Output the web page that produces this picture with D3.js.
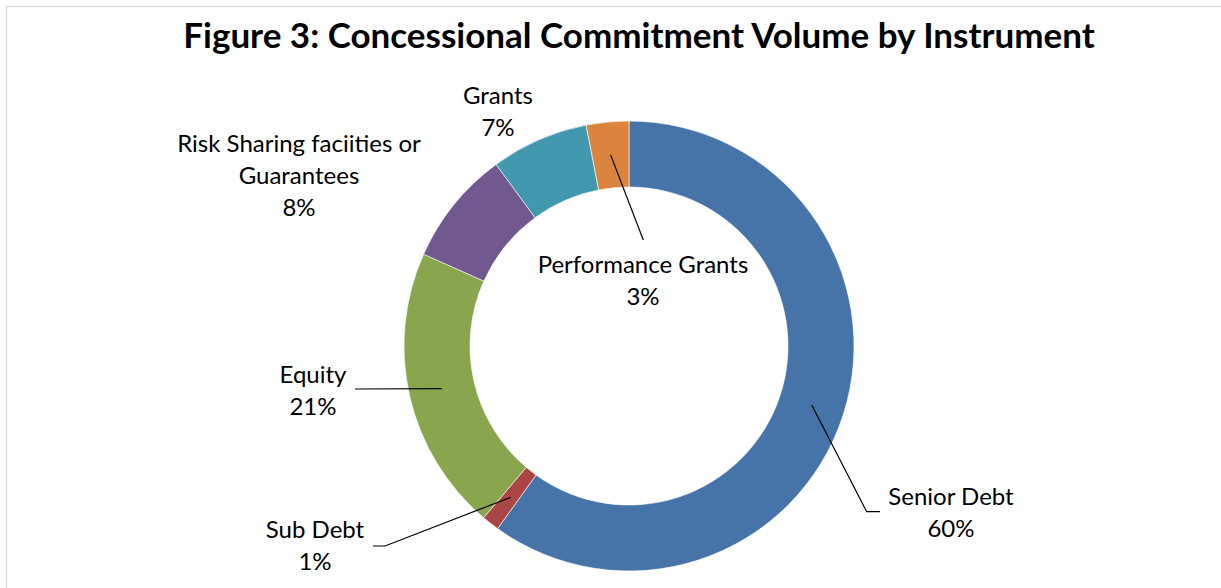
<!DOCTYPE html>
<html>
<head>
<meta charset="utf-8">
<title>Concessional Commitment Volume by Instrument</title>
<script src="https://cdn.jsdelivr.net/npm/d3@7"></script>
<style>
body { margin: 0; background: #fff; font-family: Lato, "Open Sans", sans-serif; }
.title { font-weight: bold; fill: #000; }
.label { font-size: 24px; fill: #000; }
.leader { fill: none; stroke: #000; stroke-width: 1.2; }
</style>
</head>
<body>
<div class="content"></div>
<script>
// data
var categories = ["Senior Debt", "Sub Debt", "Equity", "Risk Sharing faciities or Guarantees", "Grants", "Performance Grants"];
var values = [59.9, 1.25, 20.5, 8.25, 7.0, 3.05];
var pctLabels = ["60%", "1%", "21%", "8%", "7%", "3%"];

var colors = ["#4674A8", "#AA4744", "#89A54E", "#71588F", "#4198AF", "#DB843D"];

var width = 1221, height = 588;
var cx = 629, cy = 346, rOuter = 225, rInner = 159;

// label layout: centre x, first baseline y, wrapped lines, leader end points
var labelLayout = [
  { x: 951, y: 505, lines: ["Senior Debt"], leader: [[866.7, 511.7], [880, 511.7]] },
  { x: 315, y: 538, lines: ["Sub Debt"], leader: [[385, 546], [373, 546]] },
  { x: 313, y: 383, lines: ["Equity"], leader: [[355, 389]] },
  { x: 299, y: 152, lines: ["Risk Sharing faciities or", "Guarantees"], leader: null },
  { x: 498, y: 104, lines: ["Grants"], leader: null },
  { x: 643, y: 273, lines: ["Performance Grants"], leader: [[643.3, 240]] }
];
var lineHeight = 32;

var svg = d3.select(".content").append("svg")
  .attr("width", width).attr("height", height);

// chart frame
svg.append("rect")
  .attr("x", 6.5).attr("y", 6.5)
  .attr("width", width + 10).attr("height", height + 10)
  .style("fill", "#fff").style("stroke", "#DCDCDC").style("stroke-width", 1.5);

var title = svg.append("text")
  .attr("class", "title")
  .attr("x", 639).attr("y", 48)
  .attr("text-anchor", "middle")
  .style("font-size", "34px")
  .text("Figure 3: Concessional Commitment Volume by Instrument");
// fit to the title's width in the figure
var tw = title.node().getComputedTextLength();
title.style("font-size", (34 * 912 / tw) + "px");

var pie = d3.pie().sort(null).value(function (d) { return d; });
var arcs = pie(values);
var arc = d3.arc().innerRadius(rInner).outerRadius(rOuter);

var g = svg.append("g").attr("transform", "translate(" + cx + "," + cy + ")");

g.selectAll("path.slice")
  .data(arcs)
  .enter().append("path")
  .attr("class", "slice")
  .attr("d", arc)
  .style("fill", function (d, i) { return colors[i]; })
  .style("stroke", "#fff")
  .style("stroke-width", 0.6);

// leader lines from the middle of the ring
arcs.forEach(function (d, i) {
  var lay = labelLayout[i];
  if (!lay.leader) return;
  var c = arc.centroid(d);
  var pts = [[cx + c[0], cy + c[1]]].concat(lay.leader);
  svg.append("path")
    .attr("class", "leader")
    .attr("d", d3.line()(pts));
});

// labels
arcs.forEach(function (d, i) {
  var lay = labelLayout[i];
  var t = svg.append("text")
    .attr("class", "label")
    .attr("text-anchor", "middle");
  var lines = lay.lines.concat([pctLabels[i]]);
  lines.forEach(function (s, k) {
    t.append("tspan")
      .attr("x", lay.x)
      .attr("y", lay.y + k * lineHeight)
      .text(s);
  });
});
</script>
</body>
</html>
